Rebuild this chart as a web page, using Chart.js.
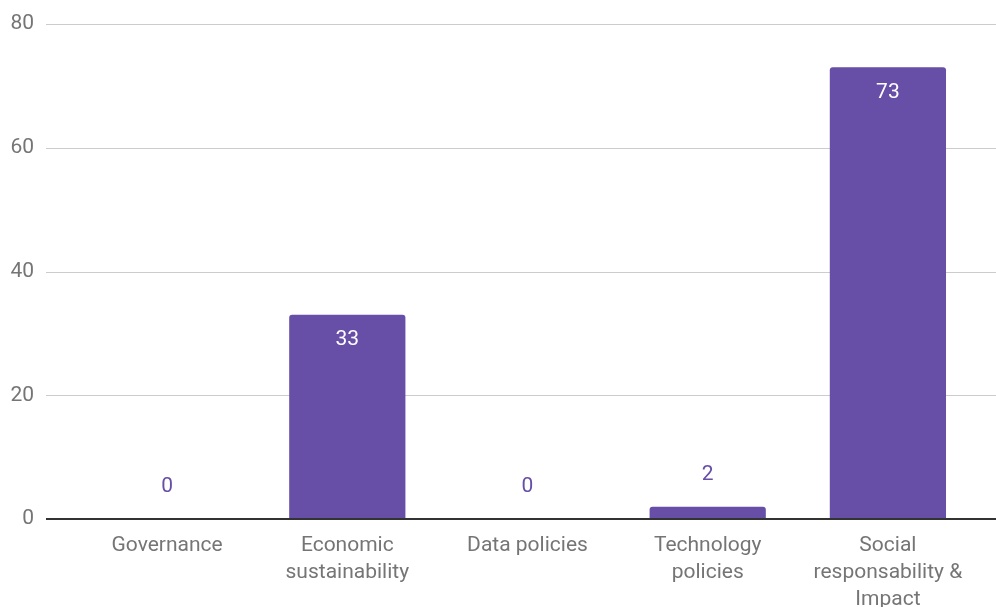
<!DOCTYPE html>
<html>
<head>
<meta charset="utf-8">
<script src="https://cdn.jsdelivr.net/npm/chart.js@4/dist/chart.umd.min.js"></script>
<style>
  html, body { margin: 0; padding: 0; background: #fff; }
  #wrap { width: 996px; height: 607px; }
</style>
</head>
<body>
<div id="wrap"><canvas id="c" width="996" height="607"></canvas></div>
<script>
const categories = [
  'Governance',
  ['Economic', 'sustainability'],
  'Data policies',
  ['Technology', 'policies'],
  ['Social', 'responsability &', 'Impact']
];
const counts = [0, 33, 0, 2, 73];
const yTicks = [0, 20, 40, 60, 80];

const BAR = '#674ea7';
const TEXT = '#757575';
const FONT_SIZE = 21;

// Horizontal grid lines spanning the full canvas width, baseline drawn darker
const gridPlugin = {
  id: 'wideGrid',
  beforeDatasetsDraw(chart) {
    const { ctx } = chart;
    const y = chart.scales.y;
    ctx.save();
    yTicks.forEach(v => {
      if (v === 0) return;
      const py = Math.round(y.getPixelForValue(v));
      ctx.strokeStyle = '#cccccc';
      ctx.lineWidth = 1;
      ctx.beginPath();
      ctx.moveTo(46, py + 0.5);
      ctx.lineTo(chart.width, py + 0.5);
      ctx.stroke();
    });
    ctx.restore();
  },
  afterDatasetsDraw(chart) {
    const { ctx } = chart;
    const py = chart.scales.y.getPixelForValue(0);
    ctx.save();
    ctx.strokeStyle = '#333333';
    ctx.lineWidth = 2;
    ctx.beginPath();
    ctx.moveTo(46, py);
    ctx.lineTo(chart.width, py);
    ctx.stroke();
    ctx.restore();
  }
};

// Value labels: inside the bar top when it is tall enough, above it otherwise
const valuePlugin = {
  id: 'valueLabels',
  afterDatasetsDraw(chart) {
    const { ctx } = chart;
    const meta = chart.getDatasetMeta(0);
    ctx.save();
    ctx.font = FONT_SIZE + 'px Roboto';
    ctx.textAlign = 'center';
    ctx.textBaseline = 'middle';
    meta.data.forEach((bar, i) => {
      const v = counts[i];
      const h = bar.base - bar.y;
      if (h > 40) {
        ctx.fillStyle = '#ffffff';
        ctx.fillText(String(v), bar.x, bar.y + 25);
      } else {
        ctx.fillStyle = BAR;
        ctx.fillText(String(v), bar.x, bar.y - 32);
      }
    });
    ctx.restore();
  }
};

new Chart(document.getElementById('c'), {
  type: 'bar',
  data: {
    labels: categories,
    datasets: [{
      data: counts,
      backgroundColor: BAR,
      borderRadius: { topLeft: 3, topRight: 3, bottomLeft: 0, bottomRight: 0 },
      borderSkipped: 'start',
      categoryPercentage: 1,
      barPercentage: 0.645
    }]
  },
  options: {
    responsive: false,
    animation: false,
    devicePixelRatio: 1,
    layout: { padding: { top: 24, right: 18, left: 0, bottom: 0 } },
    plugins: {
      legend: { display: false },
      tooltip: { enabled: false }
    },
    scales: {
      x: {
        grid: { display: false, drawTicks: false },
        border: { display: false },
        ticks: {
          color: TEXT,
          font: { family: 'Roboto', size: FONT_SIZE, lineHeight: 27 / FONT_SIZE },
          padding: 13,
          maxRotation: 0,
          autoSkip: false
        },
        afterFit(scale) {
          scale.height = 88;
          scale.paddingTop = 0;
          scale.paddingBottom = 0;
          scale.paddingLeft = 0;
          scale.paddingRight = 0;
        }
      },
      y: {
        min: 0,
        max: 80,
        afterBuildTicks(scale) { scale.ticks = yTicks.map(v => ({ value: v })); },
        grid: { display: false, drawTicks: false },
        border: { display: false },
        ticks: {
          color: TEXT,
          font: { family: 'Roboto', size: FONT_SIZE },
          padding: 43
        },
        afterFit(scale) {
          scale.width = 77;
          scale.paddingTop = 0;
          scale.paddingBottom = 0;
        }
      }
    }
  },
  plugins: [gridPlugin, valuePlugin]
});
</script>
</body>
</html>
